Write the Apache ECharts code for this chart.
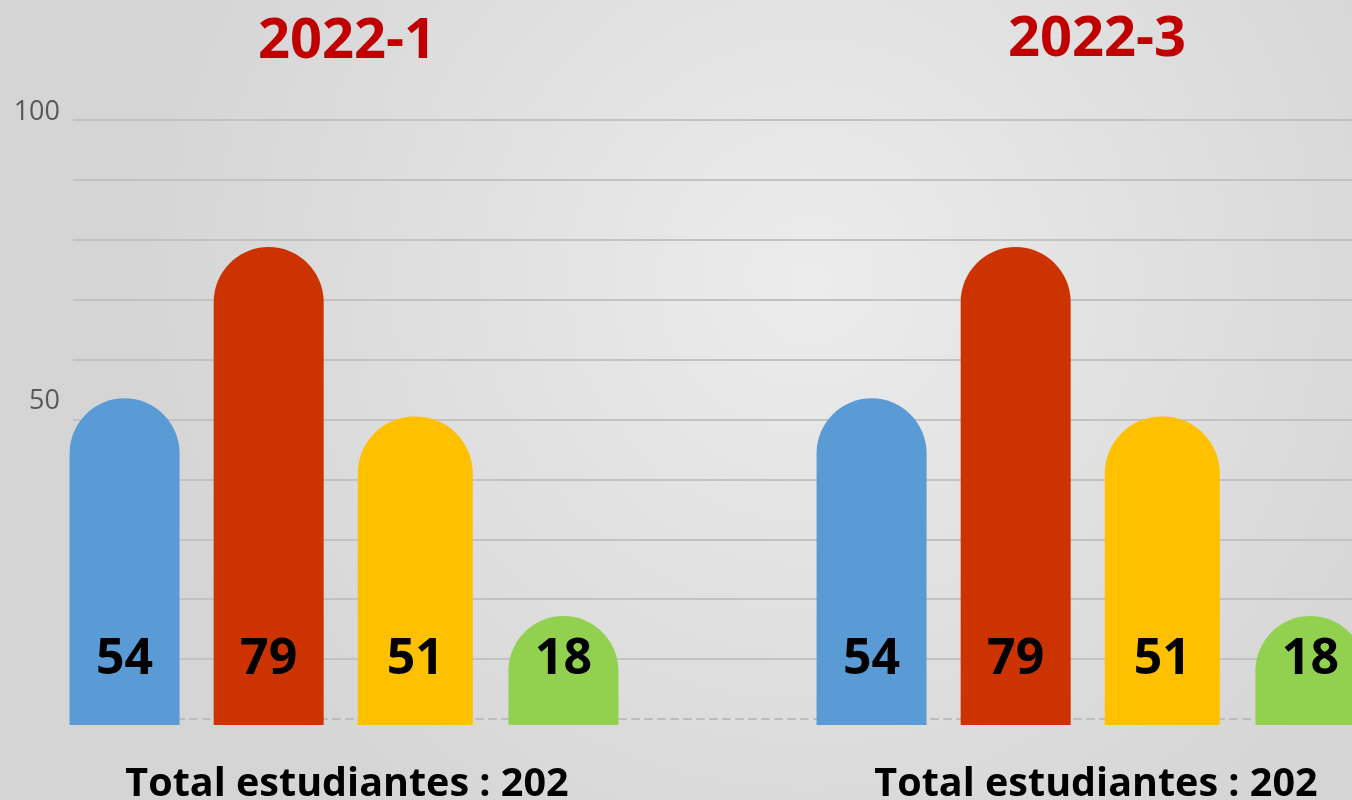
<!DOCTYPE html>
<html>
<head>
<meta charset="utf-8">
<title>Estudiantes 2022</title>
<script src="https://cdn.jsdelivr.net/npm/echarts@6/dist/echarts.min.js"></script>
<style>
  html, body { margin: 0; padding: 0; }
  #main { width: 1352px; height: 800px; }
</style>
</head>
<body>
<div id="main"></div>
<script>
// data
var periods = ['2022-1', '2022-3'];
var seriesNames = ['Grupo 1', 'Grupo 2', 'Grupo 3', 'Grupo 4'];
var values2022_1 = [54, 79, 51, 18];
var values2022_3 = [54, 79, 51, 18];
var yTickLabels = [50, 100];
var totalLabel = 'Total estudiantes : ';

var colors = ['#5B9BD5', '#CC3300', '#FFC000', '#92D050'];
var font = '"Open Sans", "Noto Sans", sans-serif';

var chart = echarts.init(document.getElementById('main'));

function sum(arr) {
    var s = 0;
    for (var i = 0; i < arr.length; i++) s += arr[i];
    return s;
}

// one set of bars per period, each in its own grid
function barsFor(values, gridIdx) {
    var out = [];
    for (var i = 0; i < values.length; i++) {
        out.push({
            name: seriesNames[i],
            type: 'bar',
            xAxisIndex: gridIdx,
            yAxisIndex: gridIdx,
            data: [values[i]],
            barWidth: i === 2 ? 115 : 110,
            barGap: '31%',
            clip: false,
            itemStyle: {
                color: colors[i],
                borderRadius: [57, 57, 0, 0]
            },
            label: {
                show: true,
                position: 'insideBottom',
                distance: 40,
                color: '#000',
                fontFamily: font,
                fontWeight: 'bold',
                fontSize: 50,
                lineHeight: 50
            },
            silent: true
        });
    }
    return out;
}

var option = {
    backgroundColor: {
        type: 'radial', x: 0.6, y: 0.35, r: 0.85,
        colorStops: [
            { offset: 0, color: '#ececec' },
            { offset: 1, color: '#d5d5d5' }
        ]
    },
    animation: false,
    title: [
        {
            text: periods[0], left: 342, top: 9, textAlign: 'center',
            textStyle: { color: '#C00000', fontFamily: font, fontWeight: 'bold', fontSize: 56 }
        },
        {
            text: periods[1], left: 1092, top: 7, textAlign: 'center',
            textStyle: { color: '#C00000', fontFamily: font, fontWeight: 'bold', fontSize: 56 }
        },
        {
            text: totalLabel + sum(values2022_1), left: 342, top: 760, textAlign: 'center',
            textStyle: { color: '#000', fontFamily: font, fontWeight: 'bold', fontSize: 39.5 }
        },
        {
            text: totalLabel + sum(values2022_3), left: 1091, top: 760, textAlign: 'center',
            textStyle: { color: '#000', fontFamily: font, fontWeight: 'bold', fontSize: 39.5 }
        }
    ],
    grid: [
        // bar grids are narrower than the groups; only their centres matter
        { left: 84, width: 520, top: 120, bottom: 75 },
        { left: 831, width: 520, top: 120, bottom: 75 },
        // background grid carrying the split lines and tick labels
        { left: 73, right: 0, top: 120, bottom: 81 }
    ],
    xAxis: [
        { type: 'category', gridIndex: 0, data: [periods[0]], show: false },
        { type: 'category', gridIndex: 1, data: [periods[1]], show: false },
        {
            type: 'category', gridIndex: 2, data: [''],
            axisLine: { show: true, lineStyle: { color: '#bcbcbc', width: 2, type: [7, 6] } },
            axisTick: { show: false },
            axisLabel: { show: false }
        }
    ],
    yAxis: [
        { type: 'value', gridIndex: 0, min: 0, max: 100, show: false },
        { type: 'value', gridIndex: 1, min: 0, max: 100, show: false },
        {
            type: 'value', gridIndex: 2, min: 0, max: 100, interval: 10,
            axisLine: { show: false },
            axisTick: { show: false },
            splitLine: { showMinLine: false, lineStyle: { color: '#c2c2c2', width: 2 } },
            axisLabel: {
                margin: 13,
                formatter: function (v) {
                    if (yTickLabels.indexOf(v) < 0) return '';
                    return v === 100 ? '{a|' + v + '}' : '{b|' + v + '}';
                },
                rich: {
                    a: { color: '#595959', fontFamily: font, fontSize: 27, padding: [0, 0, 16, 0] },
                    b: { color: '#595959', fontFamily: font, fontSize: 27, padding: [0, 0, 36, 0] }
                }
            }
        }
    ],
    series: barsFor(values2022_1, 0).concat(barsFor(values2022_3, 1))
};

option && chart.setOption(option);
</script>
</body>
</html>
